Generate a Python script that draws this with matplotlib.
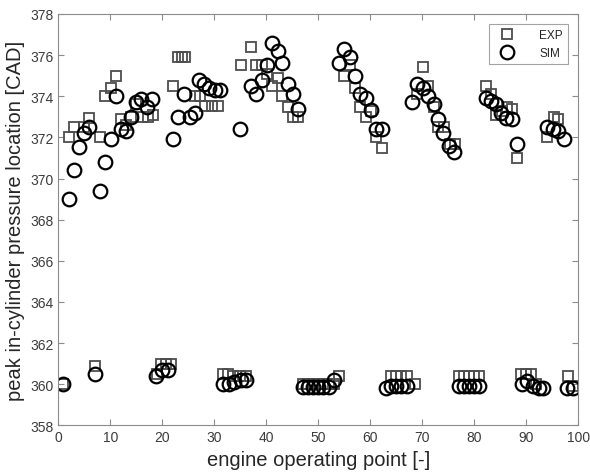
import matplotlib
matplotlib.use("Agg")
import matplotlib.pyplot as plt
import numpy as np

# measured peak pressure location, squares
exp_x = [1, 2.0, 3.1, 4.9, 5.9, 7.1, 8.1, 9.0, 10.2, 11.1, 12.1, 13.0, 14.0, 15.0,
         16.3, 17.2, 18.2, 19.0, 19.8, 20.8, 21.7, 22.0, 23.1, 23.8, 24.4, 26.3,
         27.3, 28.3, 29.6, 30.8, 31.7, 32.6, 33.7, 35.0, 36.2, 35.1, 37.1, 38.1,
         39.2, 40.1, 41.1, 42.2, 43.1, 44.1, 45.1, 46.2, 47, 48, 49, 50, 51, 52,
         53, 54.1, 55.0, 56.2, 57.1, 58.1, 59.2, 60.2, 61.2, 62.2, 64, 65, 66, 67,
         68.7, 69.1, 70.1, 71.2, 72.2, 73.1, 74.2, 75.3, 76.3, 77, 78, 79, 80, 81,
         82.3, 83.3, 84.2, 85.3, 86.3, 87.2, 88.2, 89, 90, 91, 92, 94.1, 95.3,
         96.2, 98.1, 99]
exp_y = [360.0, 372.0, 372.5, 372.5, 372.95, 360.9, 372.0, 374.0, 374.4, 375.0,
         372.9, 372.6, 373.0, 373.6, 373.0, 373.0, 373.1, 360.5, 361.0, 361.0,
         361.0, 374.5, 375.9, 375.9, 375.9, 374.0, 374.0, 373.55, 373.55, 373.55,
         360.5, 360.5, 360.4, 360.4, 360.4, 375.5, 376.4, 375.5, 375.5, 375.1,
         374.5, 374.9, 374.0, 373.5, 373.0, 373.0, 360.0, 360.0, 360.0, 360.0,
         360.0, 360.0, 360.0, 360.4, 375.0, 375.5, 374.4, 373.5, 373.0, 373.3,
         372.0, 371.5, 360.4, 360.4, 360.4, 360.4, 360.0, 374.1, 375.4, 374.5,
         373.5, 372.5, 372.5, 371.7, 371.7, 360.4, 360.4, 360.4, 360.4, 360.4,
         374.5, 374.1, 373.1, 373.3, 373.5, 373.4, 371.0, 360.5, 360.5, 360.5,
         360.0, 372.0, 373.0, 372.9, 360.4, 359.9]

# simulated peak pressure location, circles
sim_x = [1, 2.1, 3.1, 4.0, 5.0, 6.0, 7.1, 8.1, 8.9, 10.1, 11.1, 12.1, 13.1, 14.0,
         15.0, 16.0, 17.1, 18.1, 18.8, 20.0, 21.2, 22.0, 23.1, 24.1, 25.3, 26.3,
         27.1, 28.1, 29.0, 30.1, 31.2, 31.7, 32.8, 33.8, 35.1, 36.2, 35.0, 37.1,
         38.1, 39.2, 40.1, 41.1, 42.2, 43.1, 44.1, 45.1, 46.2, 47, 48, 49, 50, 51,
         52, 53.1, 54.0, 55.0, 56.2, 57.1, 58.1, 59.2, 60.2, 61.2, 62.2, 63, 64,
         65, 66, 67, 68.1, 69.1, 70.1, 71.1, 72.2, 73.1, 74.1, 75.1, 76.2, 77, 78,
         79, 80, 81, 82.3, 83.3, 84.2, 85.2, 86.2, 87.2, 88.2, 89.2, 90.1, 91.4,
         92.4, 93.2, 94.1, 95.2, 96.1, 97.2, 97.8, 99.0]
sim_y = [360.0, 369.0, 370.4, 371.55, 372.2, 372.5, 360.5, 369.4, 370.8, 371.9,
         374.0, 372.4, 372.3, 373.0, 373.7, 373.85, 373.5, 373.85, 360.4, 360.7,
         360.7, 371.9, 373.0, 374.1, 373.0, 373.2, 374.8, 374.6, 374.4, 374.3,
         374.3, 360.0, 360.0, 360.1, 360.2, 360.2, 372.4, 374.5, 374.1, 374.8,
         375.5, 376.6, 376.2, 375.6, 374.6, 374.1, 373.4, 359.85, 359.85, 359.85,
         359.85, 359.85, 359.85, 360.2, 375.6, 376.3, 375.9, 375.0, 374.1, 373.9,
         373.35, 372.4, 372.4, 359.8, 359.9, 359.9, 359.9, 359.9, 373.7, 374.6,
         374.4, 374.0, 373.6, 372.9, 372.2, 371.6, 371.3, 359.9, 359.9, 359.9,
         359.9, 359.9, 373.9, 373.75, 373.6, 373.2, 372.95, 372.9, 371.7, 360.0,
         360.15, 359.9, 359.8, 359.8, 372.5, 372.4, 372.3, 371.9, 359.8, 359.8]

plt.rcParams['font.family'] = ['Liberation Sans', 'DejaVu Sans']

fig = plt.figure(figsize=(5.9, 4.77), dpi=100)
ax = fig.add_axes([0.0988, 0.106, 0.881, 0.8626])

ax.plot(exp_x, exp_y, linestyle='none', marker='s', markersize=7.6,
        markerfacecolor='none', markeredgecolor='#4d4d4d', markeredgewidth=1.3,
        label='EXP')
ax.plot(sim_x, sim_y, linestyle='none', marker='o', markersize=9.8,
        markerfacecolor='none', markeredgecolor='black', markeredgewidth=1.6,
        label='SIM')

ax.set_xlim(0, 100)
ax.set_ylim(358, 378)
ax.set_xticks(np.arange(0, 101, 10))
ax.set_yticks(np.arange(358, 379, 2))

for s in ax.spines.values():
    s.set_color('#8c8c8c')
    s.set_linewidth(0.8)
ax.tick_params(direction='in', top=True, right=True, length=4, width=0.8,
               color='#8c8c8c', labelsize=10, labelcolor='#3c3c3c')

ax.set_xlabel('engine operating point [-]', fontsize=14.5, color='#262626')
ax.set_ylabel('peak in-cylinder pressure location [CAD]', fontsize=14.5,
              color='#262626')

leg = ax.legend(loc='upper right', fontsize=8.5, frameon=True, fancybox=False,
                edgecolor='#8c8c8c', borderaxespad=0.85, handlelength=2.2,
                handletextpad=1.6, borderpad=0.45, labelspacing=0.45,
                markerfirst=True)
leg.get_frame().set_linewidth(0.8)
for t in leg.get_texts():
    t.set_color('#262626')

fig.savefig('out.png', dpi=100)
